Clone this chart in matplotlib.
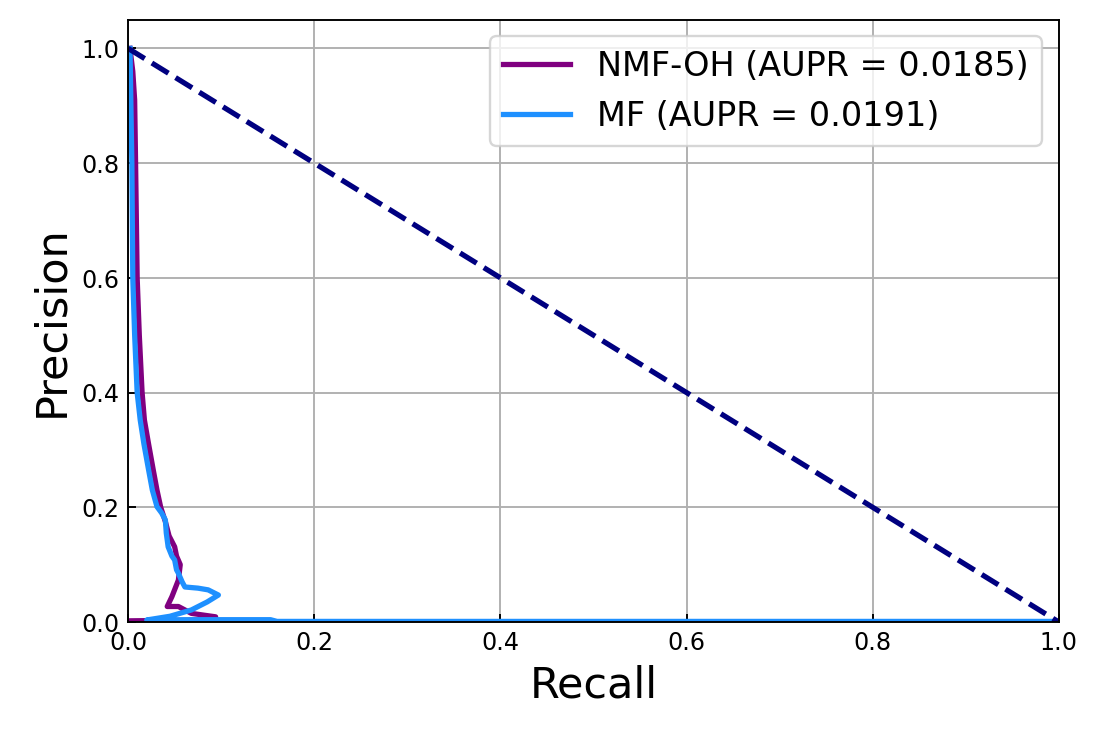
import matplotlib
matplotlib.use("Agg")
import matplotlib.pyplot as plt

# values
nmf_recall = [0.002, 0.005, 0.007, 0.008, 0.0097, 0.012, 0.015, 0.0175, 0.022, 0.027,
              0.031, 0.035, 0.040, 0.044, 0.050, 0.052, 0.056, 0.054, 0.047, 0.042,
              0.054, 0.068, 0.094, 0.094, 0.060, 0.0]
nmf_precision = [1.0, 0.96, 0.91, 0.80, 0.60, 0.50, 0.40, 0.352, 0.31, 0.265,
                 0.23, 0.20, 0.175, 0.15, 0.131, 0.115, 0.10, 0.073, 0.044, 0.027,
                 0.027, 0.015, 0.009, 0.004, 0.003, 0.002]

mf_recall = [0.002, 0.003, 0.004, 0.0045, 0.005, 0.007, 0.0097, 0.013, 0.017, 0.022,
             0.026, 0.031, 0.036, 0.040, 0.041, 0.043, 0.047, 0.050, 0.052, 0.054,
             0.058, 0.061, 0.075, 0.086, 0.097, 0.085, 0.068, 0.045, 0.020, 0.080,
             0.153, 0.160, 1.0]
mf_precision = [1.0, 0.90, 0.80, 0.70, 0.60, 0.50, 0.40, 0.352, 0.31, 0.265,
                0.23, 0.201, 0.19, 0.178, 0.155, 0.131, 0.115, 0.108, 0.091, 0.085,
                0.07, 0.061, 0.059, 0.056, 0.047, 0.035, 0.021, 0.010, 0.0035, 0.004,
                0.004, 0.001, 0.001]

nmf_aupr = 0.0185
mf_aupr = 0.0191

fig = plt.figure(figsize=(6.4, 4.275), dpi=172)
ax = fig.add_axes([0.1164, 0.1537, 0.8454, 0.8191])

ax.plot(nmf_recall, nmf_precision, color="purple", lw=2.2,
        label="NMF-OH (AUPR = %.4f)" % nmf_aupr)
ax.plot(mf_recall, mf_precision, color="dodgerblue", lw=2.2,
        label="MF (AUPR = %.4f)" % mf_aupr)
ax.plot([0, 1], [1, 0], color="navy", lw=2.2, linestyle="--")

ax.set_xlim(0, 1)
ax.set_ylim(0, 1.05)
ax.set_xticks([0, 0.2, 0.4, 0.6, 0.8, 1.0])
ax.set_yticks([0, 0.2, 0.4, 0.6, 0.8, 1.0])
ax.tick_params(direction="in")
ax.grid(True)
ax.set_xlabel("Recall", fontsize=18)
ax.set_ylabel("Precision", fontsize=18)
ax.legend(loc="upper right", fontsize=14)

fig.savefig("out.png", dpi=172)
